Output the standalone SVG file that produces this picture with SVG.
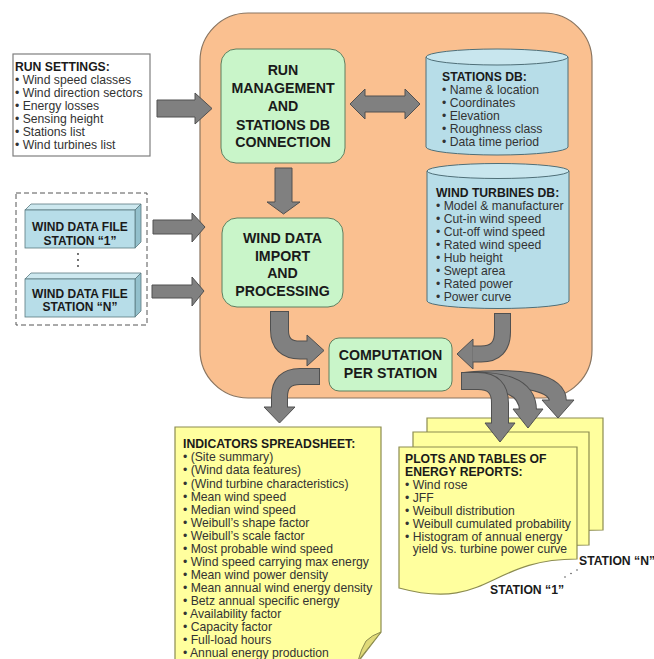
<svg xmlns="http://www.w3.org/2000/svg" width="654" height="659" viewBox="0 0 654 659">
<style>
text{font-family:"Liberation Sans",Arial,sans-serif;}
.t{font-size:12.2px;font-weight:bold;fill:#1a1a1a;}
.l{font-size:12.2px;fill:#333;}
.b{font-size:14.2px;font-weight:bold;fill:#1a1a1a;text-anchor:middle;}
.f{font-size:12px;font-weight:bold;fill:#1a1a1a;text-anchor:middle;}
.green{fill:#C9F5C9;stroke:#5f7f5f;stroke-width:1;}
.cyl{fill:#B7DDE8;stroke:#4f6f78;stroke-width:1;}
.cyltop{fill:#C8E6EE;stroke:#4f6f78;stroke-width:1;}
.doc{fill:#FFFF9E;stroke:#8c8c50;stroke-width:1.2;}
.arr{fill:#808080;stroke:#505050;stroke-width:1;stroke-linejoin:miter;}
.ol{fill:none;stroke:#505050;}
.bd{fill:none;stroke:#808080;}
</style>

<g id="core">
<rect x="200" y="13" width="392" height="385" rx="48" ry="48" fill="#FAC090" stroke="#8a7560" stroke-width="1.2"/>
</g>

<g id="node-run-settings">
<rect x="13" y="54" width="137" height="102" fill="#fff" stroke="#7f7f7f" stroke-width="1.2"/>
<text class="t" x="15" y="71">RUN SETTINGS:</text>
<text class="l" x="15" y="84">• Wind speed classes</text>
<text class="l" x="15" y="97">• Wind direction sectors</text>
<text class="l" x="15" y="110">• Energy losses</text>
<text class="l" x="15" y="122.5">• Sensing height</text>
<text class="l" x="15" y="135.5">• Stations list</text>
<text class="l" x="15" y="148.5">• Wind turbines list</text>
</g>

<g id="node-run-mgmt">
<rect class="green" x="221" y="49" width="124" height="114" rx="15" ry="15"/>
<text class="b" x="283" y="75">RUN</text>
<text class="b" x="283" y="93">MANAGEMENT</text>
<text class="b" x="283" y="111">AND</text>
<text class="b" x="283" y="129.5">STATIONS DB</text>
<text class="b" x="283" y="147">CONNECTION</text>
</g>

<g id="node-stations-db">
<path class="cyl" d="M426,57 L426,147 A71,8 0 0 0 568,147 L568,57 Z"/>
<ellipse class="cyltop" cx="497" cy="57" rx="71" ry="8"/>
<text class="t" x="442" y="80.5">STATIONS DB:</text>
<text class="l" x="442" y="93.5">• Name &amp; location</text>
<text class="l" x="442" y="106.5">• Coordinates</text>
<text class="l" x="442" y="119.5">• Elevation</text>
<text class="l" x="442" y="132.5">• Roughness class</text>
<text class="l" x="442" y="146">• Data time period</text>
</g>

<g id="node-wt-db">
<path class="cyl" d="M427,171 L427,301 A71,7.5 0 0 0 569,301 L569,171 Z"/>
<ellipse class="cyltop" cx="498" cy="171" rx="71" ry="7.5"/>
<text class="t" x="436" y="196.5">WIND TURBINES DB:</text>
<text class="l" x="436" y="209.5">• Model &amp; manufacturer</text>
<text class="l" x="436" y="222.5">• Cut-in wind speed</text>
<text class="l" x="436" y="235.5">• Cut-off wind speed</text>
<text class="l" x="436" y="248.5">• Rated wind speed</text>
<text class="l" x="436" y="261.5">• Hub height</text>
<text class="l" x="436" y="274.5">• Swept area</text>
<text class="l" x="436" y="287.5">• Rated power</text>
<text class="l" x="436" y="300.5">• Power curve</text>
</g>

<g id="node-wind-import">
<rect class="green" x="222" y="218" width="121" height="89" rx="15" ry="15"/>
<text class="b" x="282.5" y="243">WIND DATA</text>
<text class="b" x="282.5" y="260.5">IMPORT</text>
<text class="b" x="282.5" y="278">AND</text>
<text class="b" x="282.5" y="295.5">PROCESSING</text>
</g>

<g id="node-computation">
<rect class="green" x="329" y="338" width="123" height="53" rx="10" ry="10"/>
<text class="b" x="390.5" y="360">COMPUTATION</text>
<text class="b" x="390.5" y="378">PER STATION</text>
</g>

<g id="node-files">
<rect x="16" y="193" width="131" height="132" fill="none" stroke="#555" stroke-width="1" stroke-dasharray="5,3"/>
<g id="node-file-1">
<polygon points="25,210 31,204 141,204 135,210" fill="#CDE8EF" stroke="#5a7a80" stroke-width="0.8"/>
<polygon points="135,210 141,204 141,242 135,248" fill="#93C0CC" stroke="#5a7a80" stroke-width="0.8"/>
<rect x="25" y="210" width="110" height="38" fill="#B7DDE8" stroke="#5a7a80" stroke-width="0.8"/>
<text class="f" x="80" y="230.5">WIND DATA FILE</text>
<text class="f" x="80" y="244.5">STATION “1”</text>
</g>
<g fill="#333">
<circle cx="78" cy="254" r="0.9"/>
<circle cx="78" cy="260" r="0.9"/>
<circle cx="78" cy="266" r="0.9"/>
</g>
<g id="node-file-n">
<polygon points="25,279 31,273 141,273 135,279" fill="#CDE8EF" stroke="#5a7a80" stroke-width="0.8"/>
<polygon points="135,279 141,273 141,311 135,317" fill="#93C0CC" stroke="#5a7a80" stroke-width="0.8"/>
<rect x="25" y="279" width="110" height="38" fill="#B7DDE8" stroke="#5a7a80" stroke-width="0.8"/>
<text class="f" x="80" y="297.5">WIND DATA FILE</text>
<text class="f" x="80" y="311">STATION “N”</text>
</g>
</g>

<g id="node-indicators">
<path class="doc" d="M175,427 L381,427 L381,632 L358,662 L175,662 Z"/>
<path d="M381,632 L358,661 Q361,649 366,641 Q372,635 381,632 Z" fill="#E0DA78" stroke="#8c8c50" stroke-width="1"/>
<text class="t" x="183" y="448.3">INDICATORS SPREADSHEET:</text>
<text class="l" x="183" y="461.4">• (Site summary)</text>
<text class="l" x="183" y="474.4">• (Wind data features)</text>
<text class="l" x="183" y="487.5">• (Wind turbine characteristics)</text>
<text class="l" x="183" y="500.5">• Mean wind speed</text>
<text class="l" x="183" y="513.6">• Median wind speed</text>
<text class="l" x="183" y="526.7">• Weibull’s shape factor</text>
<text class="l" x="183" y="539.7">• Weibull’s scale factor</text>
<text class="l" x="183" y="552.8">• Most probable wind speed</text>
<text class="l" x="183" y="565.8">• Wind speed carrying max energy</text>
<text class="l" x="183" y="578.9">• Mean wind power density</text>
<text class="l" x="183" y="592">• Mean annual wind energy density</text>
<text class="l" x="183" y="605">• Betz annual specific energy</text>
<text class="l" x="183" y="618.1">• Availability factor</text>
<text class="l" x="183" y="631.1">• Capacity factor</text>
<text class="l" x="183" y="644.2">• Full-load hours</text>
<text class="l" x="183" y="657.3">• Annual energy production</text>
</g>

<g id="node-plots">
<path class="doc" d="M427,418 L603,418 L603,530 C515,530 515,573 427,549 Z"/>
<path class="doc" d="M413,432 L589,432 L589,545 C501,545 501,588 413,564 Z"/>
<path class="doc" d="M399,447 L577,447 L577,559 C488,559 488,612 399,588 Z"/>
<text class="t" x="405" y="463">PLOTS AND TABLES OF</text>
<text class="t" x="405" y="476">ENERGY REPORTS:</text>
<text class="l" x="405" y="489">• Wind rose</text>
<text class="l" x="405" y="502">• JFF</text>
<text class="l" x="405" y="514.5">• Weibull distribution</text>
<text class="l" x="405" y="527.5">• Weibull cumulated probability</text>
<text class="l" x="405" y="540.5">• Histogram of annual energy</text>
<text class="l" x="412.7" y="553">yield vs. turbine power curve</text>
<text class="t" x="579" y="565">STATION “N”</text>
<text class="t" x="490" y="594">STATION “1”</text>
<g fill="#555">
<circle cx="565" cy="577" r="0.8"/>
<circle cx="571" cy="573.5" r="0.8"/>
<circle cx="577" cy="570" r="0.8"/>
</g>
</g>

<g id="connectors">
<polygon class="arr" points="157,100 195,100 195,93 212,108.5 195,124 195,117 157,117"/>
<polygon class="arr" points="153,220 192,220 192,213 205,227 192,242 192,234 153,234"/>
<polygon class="arr" points="152,285 192,285 192,277 204,291 192,306 192,298 152,298"/>
<polygon class="arr" points="275,168 292,168 292,202 300,202 283.5,214 267,202 275,202"/>
<polygon class="arr" points="350,104 365,89 365,96 405,96 405,89 420,104 405,119 405,112 365,112 365,119"/>

<g id="c-import-comp">
<path class="ol" stroke-width="19" d="M279.5,311 L279.5,330 Q279.5,350 300,350 L309,350"/>
<polygon class="arr" points="307,335 324,350.5 307,366"/>
<path class="bd" stroke-width="17" d="M279.5,312 L279.5,330 Q279.5,350 300,350 L308.5,350"/>
</g>
<g id="c-wt-comp">
<path class="ol" stroke-width="17" d="M502.5,313 L502.5,332 Q502.5,354 481,354 L471,354"/>
<polygon class="arr" points="473,339 457,354 473,369"/>
<path class="bd" stroke-width="15" d="M502.5,314 L502.5,332 Q502.5,354 481,354 L472.5,354"/>
</g>
<g id="c-comp-ind">
<path class="ol" stroke-width="17" d="M320,376.5 L300,376.5 Q279.5,376.5 279.5,397 L279.5,409"/>
<polygon class="arr" points="264,407 279.5,423 295,407"/>
<path class="bd" stroke-width="15" d="M319,376.5 L300,376.5 Q279.5,376.5 279.5,397 L279.5,408.5"/>
</g>
<g id="c-comp-plot-n">
<path class="ol" stroke-width="18" d="M465,381 C515,376 558,380 558,402"/>
<polygon class="arr" points="542,400 558,418 574,400"/>
<path class="bd" stroke-width="16" d="M466,381 C515,376 558,380 558,401.5"/>
</g>
<g id="c-comp-plot-2">
<path class="ol" stroke-width="18" d="M463,381 C500,379 528,385 528,411"/>
<polygon class="arr" points="513,409 528,428 543,409"/>
<path class="bd" stroke-width="16" d="M464,381 C500,379 528,385 528,410.5"/>
</g>
<g id="c-comp-plot-1">
<path class="ol" stroke-width="18" d="M461,381 L478,381 Q500,381 500,403 L500,425"/>
<polygon class="arr" points="485,423 500,442 515,423"/>
<path class="bd" stroke-width="16" d="M462,381 L478,381 Q500,381 500,403 L500,424.5"/>
</g>
</g>
</svg>
